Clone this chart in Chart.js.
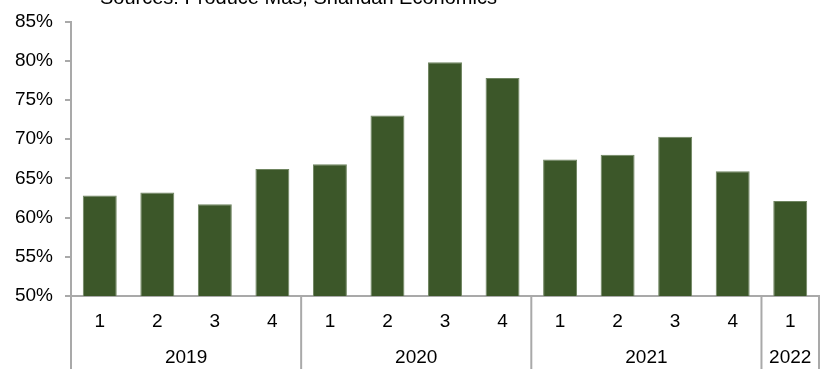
<!DOCTYPE html>
<html>
<head>
<meta charset="utf-8">
<script src="https://cdn.jsdelivr.net/npm/chart.js@4/dist/chart.umd.min.js"></script>
<style>
  html, body { margin: 0; padding: 0; background: #ffffff; }
  #wrap { width: 823px; height: 369px; }
</style>
</head>
<body>
<div id="wrap"><canvas id="c" width="823" height="369"></canvas></div>
<script>
// Quarterly share, 2019 Q1 – 2022 Q1
const quarters = ['1', '2', '3', '4', '1', '2', '3', '4', '1', '2', '3', '4', '1'];
const years = ['2019', '2020', '2021', '2022'];
const quartersPerYear = [4, 4, 4, 1];
const shares = [62.8, 63.2, 61.7, 66.2, 66.8, 73.0, 79.8, 77.8, 67.4, 68.0, 70.3, 65.9, 62.1];
const yMin = 50, yMax = 85, yStep = 5;
const sourceNote = 'Sources: Produce Mas, Shandan Economics';

const FONT = '"Liberation Sans", Arial, Helvetica, sans-serif';
const FONT_SIZE = 19;
const AXIS_GREY = '#a9a9a9';
const BAR_GREEN = '#3c5729';

// Two-level category axis (quarter / year) with year separators, plus the source note
const groupedAxis = {
  id: 'groupedAxis',
  afterDraw(chart) {
    const { ctx, chartArea, scales } = chart;
    const x = scales.x;
    const H = chart.height;
    const bottom = chartArea.bottom;
    const half = (x.getPixelForValue(1) - x.getPixelForValue(0)) / 2;

    ctx.save();
    ctx.strokeStyle = AXIS_GREY;
    ctx.lineWidth = 2;

    const vline = (px) => {
      ctx.beginPath();
      ctx.moveTo(px, bottom);
      ctx.lineTo(px, H);
      ctx.stroke();
    };

    // left and right edges
    vline(chartArea.left);
    vline(chartArea.right);

    ctx.fillStyle = '#000000';
    ctx.font = FONT_SIZE + 'px ' + FONT;
    ctx.textAlign = 'center';
    ctx.textBaseline = 'middle';

    // quarter labels
    quarters.forEach((q, i) => {
      ctx.fillText(q, x.getPixelForValue(i), bottom + 26);
    });

    // year labels and separators
    let start = 0;
    years.forEach((yr, k) => {
      const end = start + quartersPerYear[k];
      const xl = x.getPixelForValue(start) - half;
      const xr = x.getPixelForValue(end - 1) + half;
      if (k > 0) vline(xl);
      ctx.fillText(yr, (xl + xr) / 2, bottom + 62);
      start = end;
    });

    // source note at the top
    ctx.textAlign = 'left';
    ctx.textBaseline = 'alphabetic';
    ctx.font = '20px ' + FONT;
    ctx.fillText(sourceNote, 100, 4);
    ctx.restore();
  }
};

new Chart(document.getElementById('c'), {
  type: 'bar',
  data: {
    labels: quarters.map((q, i) => q + '-' + i),
    datasets: [{
      data: shares,
      backgroundColor: BAR_GREEN,
      borderColor: '#6f8560',
      borderWidth: { top: 1, left: 1, right: 1, bottom: 0 },
      categoryPercentage: 1.0,
      barPercentage: 0.59
    }]
  },
  options: {
    responsive: false,
    animation: false,
    layout: { padding: { top: 20, right: 4, left: 0, bottom: 0 } },
    plugins: { legend: { display: false }, tooltip: { enabled: false } },
    scales: {
      x: {
        grid: { display: false },
        ticks: { display: false },
        border: { display: true, color: AXIS_GREY, width: 2 },
        afterFit(scale) { scale.height = 73; }
      },
      y: {
        min: yMin,
        max: yMax,
        ticks: {
          stepSize: yStep,
          color: '#000000',
          padding: 12,
          font: { family: FONT, size: FONT_SIZE, lineHeight: 1.0 },
          callback: (v) => v + '%'
        },
        grid: {
          drawOnChartArea: false,
          drawTicks: true,
          tickLength: 6,
          color: AXIS_GREY,
          lineWidth: 2
        },
        border: { display: true, color: AXIS_GREY, width: 2 },
        afterFit(scale) { scale.width = 71; }
      }
    }
  },
  plugins: [groupedAxis]
});
</script>
</body>
</html>
